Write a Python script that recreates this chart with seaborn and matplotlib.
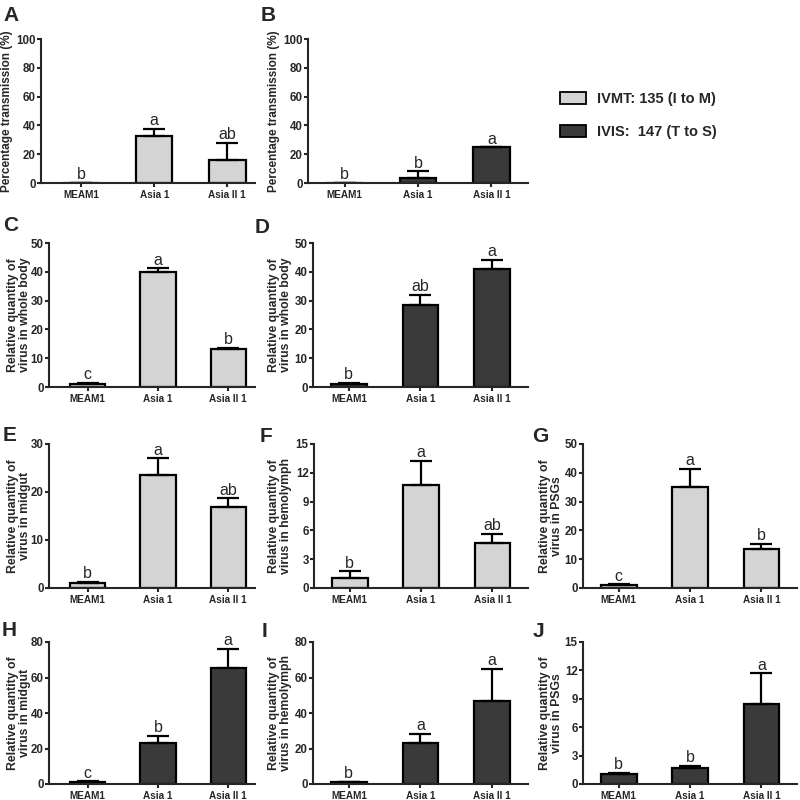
import pandas as pd
import matplotlib.pyplot as plt
import seaborn as sns
from matplotlib.patches import Patch

sns.set_style("ticks")
plt.rcParams["font.family"] = ["Liberation Sans", "DejaVu Sans"]

# data (mean, upper error, letters)
groups = ["MEAM1", "Asia 1", "Asia II 1"]

means_A = [0.0, 32.8, 16.2]
err_A = [0.0, 4.6, 11.5]
sig_A = ["b", "a", "ab"]

means_B = [0.0, 3.5, 24.7]
err_B = [0.0, 4.6, 0.0]
sig_B = ["b", "b", "a"]

means_C = [1.1, 39.8, 13.2]
err_C = [0.4, 1.4, 0.3]
sig_C = ["c", "a", "b"]

means_D = [1.0, 28.6, 41.1]
err_D = [0.4, 3.5, 3.1]
sig_D = ["b", "ab", "a"]

means_E = [1.05, 23.5, 16.8]
err_E = [0.2, 3.5, 1.9]
sig_E = ["b", "a", "ab"]

means_F = [1.05, 10.7, 4.65]
err_F = [0.7, 2.55, 1.0]
sig_F = ["b", "a", "ab"]

means_G = [1.1, 35.2, 13.4]
err_G = [0.2, 6.1, 1.9]
sig_G = ["c", "a", "b"]

means_H = [1.1, 22.9, 65.4]
err_H = [0.4, 4.3, 10.7]
sig_H = ["c", "b", "a"]

means_I = [1.0, 22.9, 47.0]
err_I = [0.2, 5.2, 18.0]
sig_I = ["b", "a", "a"]

means_J = [1.05, 1.72, 8.5]
err_J = [0.14, 0.21, 3.2]
sig_J = ["b", "b", "a"]

light = "#d4d4d4"
dark = "#3a3a3a"
legend_labels = ["IVMT: 135 (I to M)", "IVIS:  147 (T to S)"]

fig = plt.figure(figsize=(8, 8), dpi=100)


def draw(box, lab_x, xlim, means, errs, sig, color, ylabel, ymax, ystep, ysize=8.8):
    # box = pixel (left, top, right, bottom); lab_x = pixel right edge of y label
    x0, y0, x1, y1 = box
    ax = fig.add_axes([x0 / 800, 1 - y1 / 800, (x1 - x0) / 800, (y1 - y0) / 800])
    df = pd.DataFrame({"group": groups, "value": means})
    sns.barplot(data=df, x="group", y="value", color=color, saturation=1,
                width=0.5, edgecolor="black", linewidth=1.6, errorbar=None, ax=ax)
    ax.errorbar(range(len(groups)), means, yerr=[[0] * len(errs), errs], fmt="none",
                ecolor="black", elinewidth=1.6, capsize=8, capthick=1.6)
    for i, (m, e, s) in enumerate(zip(means, errs, sig)):
        ax.annotate(s, (i, m + e), xytext=(0, 0.5), textcoords="offset points",
                    ha="center", va="bottom", fontsize=11.5)
    ax.set_xlim(*xlim)
    ax.set_ylim(0, ymax)
    ax.set_yticks(range(0, ymax + 1, ystep))
    ax.set_xlabel("")
    ax.set_ylabel(ylabel, fontsize=ysize, fontweight="bold", linespacing=1.0)
    ax.yaxis.set_label_coords((lab_x - x0) / (x1 - x0), 0.5)
    for lab in ax.get_xticklabels():
        lab.set_fontweight("bold")
        lab.set_fontsize(7.2)
    for lab in ax.get_yticklabels():
        lab.set_fontweight("bold")
        lab.set_fontsize(8.3)
    sns.despine(ax=ax)
    for sp in ["left", "bottom"]:
        ax.spines[sp].set_linewidth(1.5)
    ax.tick_params(width=1.5, length=2.8, pad=1)
    ax.tick_params(axis="x", pad=2)
    return ax


col1 = (-0.55, 2.38)
col2 = (-0.5, 2.5)
ylab_pt = "Percentage transmission (%)"
draw((41, 39, 255, 183), 13, col1, means_A, err_A, sig_A, light, ylab_pt, 100, 20, 8.5)
draw((308, 39, 528, 183), 280, col2, means_B, err_B, sig_B, dark, ylab_pt, 100, 20, 8.5)
draw((49, 243, 255, 387), 31, col1, means_C, err_C, sig_C, light,
     "Relative quantity of\nvirus in whole body", 50, 10)
draw((313, 243, 528, 387), 292, col2, means_D, err_D, sig_D, dark,
     "Relative quantity of\nvirus in whole body", 50, 10)
draw((49, 444, 255, 588), 31, col1, means_E, err_E, sig_E, light,
     "Relative quantity of\nvirus in midgut", 30, 10)
draw((314, 444, 528, 588), 292, col2, means_F, err_F, sig_F, light,
     "Relative quantity of\nvirus in hemolymph", 15, 3)
draw((583, 444, 797, 588), 563, col2, means_G, err_G, sig_G, light,
     "Relative quantity of\nvirus in PSGs", 50, 10)
draw((49, 642, 255, 784), 31, col1, means_H, err_H, sig_H, dark,
     "Relative quantity of\nvirus in midgut", 80, 20)
draw((313, 642, 528, 784), 292, col2, means_I, err_I, sig_I, dark,
     "Relative quantity of\nvirus in hemolymph", 80, 20)
draw((583, 642, 797, 784), 563, col2, means_J, err_J, sig_J, dark,
     "Relative quantity of\nvirus in PSGs", 15, 3)

# panel letters
for letter, x, y in [("A", 3, 6), ("B", 261, 6), ("C", 3, 216), ("D", 255, 218),
                     ("E", 3, 426), ("F", 260, 427), ("G", 532, 427),
                     ("H", 2, 621), ("I", 262, 622), ("J", 533, 622)]:
    fig.text(x / 800, 1 - y / 800, letter, fontsize=15, fontweight="bold",
             ha="left", va="top")

handles = [Patch(facecolor=light, edgecolor="black", linewidth=1.3),
           Patch(facecolor=dark, edgecolor="black", linewidth=1.3)]
fig.legend(handles, legend_labels, loc="upper left", bbox_to_anchor=(547 / 800, 1 - 79 / 800),
           frameon=False, handlelength=1.8, handleheight=0.9, handletextpad=0.7,
           labelspacing=1.3, prop={"weight": "bold", "size": 10.5})

fig.savefig("out.png", dpi=100)
